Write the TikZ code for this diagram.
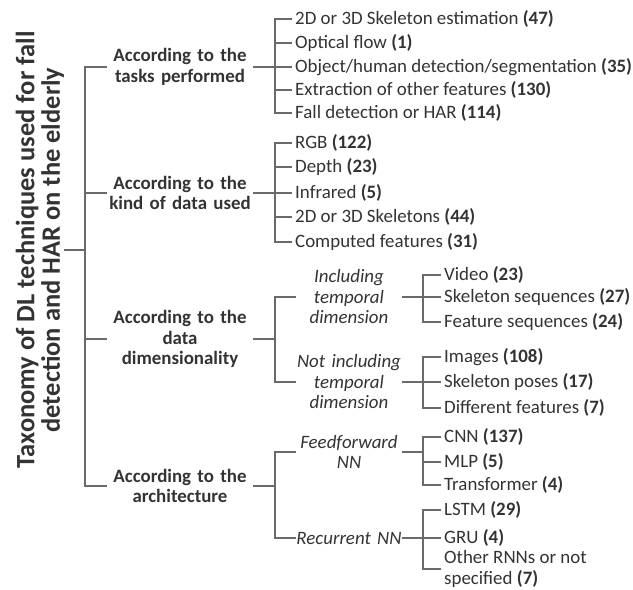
\documentclass[tikz,border=0pt]{standalone}
\usepackage{fontspec}
\setmainfont{Carlito}
\definecolor{txtc}{HTML}{333333}
\definecolor{linec}{HTML}{6A6A6A}
\tikzset{
  conn/.style={draw=linec, line width=1.3pt},
  item/.style={anchor=west, inner xsep=3pt, inner ysep=0pt, text=txtc,
    font=\fontsize{18.9}{20.5}\selectfont, align=left},
  cat/.style={text width=146pt, inner xsep=0pt, inner ysep=0pt, align=center,
    text=txtc, font=\bfseries\fontsize{18.9}{20.5}\selectfont},
  sub/.style={text width=106pt, inner xsep=0pt, inner ysep=0pt, align=center,
    text=txtc, font=\itshape\fontsize{18.9}{20.5}\selectfont},
  ttl/.style={rotate=90, align=center, inner sep=0pt, text=txtc,
    font=\bfseries\fontsize{26.5}{25.5}\selectfont},
}
\begin{document}
\begin{tikzpicture}[x=1pt,y=-1pt]
\useasboundingbox (0,0) rectangle (633,590);
% title
\node[ttl] (title) at (40,250) {Taxonomy of DL techniques used for fall\\detection and HAR on the elderly};
\coordinate (trunk) at (85,250);
\draw[conn] (title.south) -- (trunk);
% categories
\node[cat] (c1) at (180,67) {According to the\\tasks performed};
\node[cat] (c2) at (180,193) {According to the\\kind of data used};
\node[cat] (c3) at (180,339) {According to the\\data\\dimensionality};
\node[cat] (c4) at (180,486) {According to the\\architecture};
\foreach \c in {c1,c2,c3,c4} \draw[conn] (trunk) |- (\c.west);
% buses
\coordinate (b1) at (275,67);
\coordinate (b2) at (275,193);
\coordinate (b3) at (275,339);
\coordinate (b4) at (275,486);
\foreach \c/\b in {c1/b1,c2/b2,c3/b3,c4/b4} \draw[conn] (\c.east) -- (\b);
% tasks
\node[item] (t1) at (292,19) {2D or 3D Skeleton estimation \textbf{(47)}};
\node[item] (t2) at (292,43) {Optical flow \textbf{(1)}};
\node[item] (t3) at (292,67) {Object/human detection/segmentation \textbf{(35)}};
\node[item] (t4) at (292,90) {Extraction of other features \textbf{(130)}};
\node[item] (t5) at (292,113) {Fall detection or HAR \textbf{(114)}};
\foreach \i in {t1,t2,t3,t4,t5} \draw[conn] (b1) |- (\i.west);
% data
\node[item] (d1) at (292,143) {RGB \textbf{(122)}};
\node[item] (d2) at (292,167) {Depth \textbf{(23)}};
\node[item] (d3) at (292,193) {Infrared \textbf{(5)}};
\node[item] (d4) at (292,217) {2D or 3D Skeletons \textbf{(44)}};
\node[item] (d5) at (292,242) {Computed features \textbf{(31)}};
\foreach \i in {d1,d2,d3,d4,d5} \draw[conn] (b2) |- (\i.west);
% dimensionality
\node[sub] (s1) at (349,297) {Including\\temporal\\dimension};
\node[sub] (s2) at (349,382) {Not including\\temporal\\dimension};
\foreach \s in {s1,s2} \draw[conn] (b3) |- (\s.west);
\coordinate (e1) at (423,297);
\coordinate (e2) at (423,382);
\draw[conn] (s1.east) -- (e1);
\draw[conn] (s2.east) -- (e2);
\node[item] (v1) at (441,275) {Video \textbf{(23)}};
\node[item] (v2) at (441,297) {Skeleton sequences \textbf{(27)}};
\node[item] (v3) at (441,322) {Feature sequences \textbf{(24)}};
\foreach \i in {v1,v2,v3} \draw[conn] (e1) |- (\i.west);
\node[item] (n1) at (441,357) {Images \textbf{(108)}};
\node[item] (n2) at (441,382) {Skeleton poses \textbf{(17)}};
\node[item] (n3) at (441,408) {Different features \textbf{(7)}};
\foreach \i in {n1,n2,n3} \draw[conn] (e2) |- (\i.west);
% architecture
\node[sub] (a1) at (349,452) {Feedforward\\NN};
\node[sub] (a2) at (349,538) {Recurrent NN};
\foreach \s in {a1,a2} \draw[conn] (b4) |- (\s.west);
\coordinate (f1) at (423,452);
\coordinate (f2) at (423,538);
\draw[conn] (a1.east) -- (f1);
\draw[conn] (a2.east) -- (f2);
\node[item] (m1) at (441,437) {CNN \textbf{(137)}};
\node[item] (m2) at (441,462) {MLP \textbf{(5)}};
\node[item] (m3) at (441,485) {Transformer \textbf{(4)}};
\foreach \i in {m1,m2,m3} \draw[conn] (f1) |- (\i.west);
\node[item] (r1) at (441,510) {LSTM \textbf{(29)}};
\node[item] (r2) at (441,538) {GRU \textbf{(4)}};
\node[item] (r3) at (441,569) {Other RNNs or not\\specified \textbf{(7)}};
\foreach \i in {r1,r2,r3} \draw[conn] (f2) |- (\i.west);
\end{tikzpicture}
\end{document}
